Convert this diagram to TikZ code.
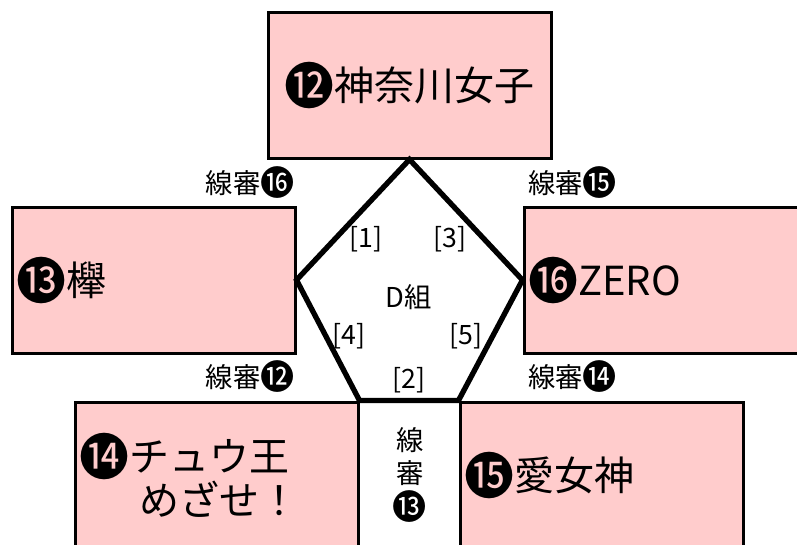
\documentclass[tikz,border=0pt]{standalone}
\usepackage{graphicx}
\usepackage{fontspec}
\setmainfont{Noto Sans CJK JP}
\definecolor{teampink}{RGB}{255,204,204}
\newcommand\cnum[1]{\raisebox{-0.1em}{\scalebox{1.25}{#1}}}
\tikzset{
  team/.style={draw,line width=2.25pt,fill=teampink,minimum width=212.25pt,minimum height=109.5pt,font=\fontsize{30}{29}\selectfont},
  leftteam/.style={team,text width=206pt,align=left,inner xsep=3pt},
  judge/.style={font=\fontsize{20.5}{24.75}\selectfont,inner sep=0pt},
  game/.style={font=\fontsize{20}{22}\selectfont,inner sep=0pt}
}
\begin{document}
\begin{tikzpicture}[x=0.75pt,y=-0.75pt]
\useasboundingbox (0,0) rectangle (797,544);
\clip (0,0) rectangle (797,544);
\node[team] (kanagawa) at (409.5,85) {\cnum{⓬}神奈川女子};
\node[leftteam] (keyaki) at (153.5,280) {\cnum{⓭}櫸};
\node[leftteam] (zero) at (665.5,280) {\cnum{⓰}ZERO};
\node[leftteam] (chuo) at (216.5,475) {\cnum{⓮}チュウ王\\\hspace*{45pt}めざせ！};
\node[leftteam] (megami) at (601.5,475) {\cnum{⓯}愛女神};
\draw[line width=4pt] (kanagawa.south) -- (zero.west) -- (megami.north west)
  -- (chuo.north east) -- (keyaki.east) -- cycle;
\node[judge,anchor=east] (j16) at (295,183) {線審\cnum{⓰}};
\node[judge,anchor=west] (j15) at (528,183) {線審\cnum{⓯}};
\node[judge,anchor=east] (j12) at (295,377) {線審\cnum{⓬}};
\node[judge,anchor=west] (j14) at (528,377) {線審\cnum{⓮}};
\node[judge,align=center] (j13) at (410,475) {線\\審\\\cnum{⓭}};
\node[judge] (group) at (409,297) {D組};
\node[game] (g1) at (366,239) {[1]};
\node[game] (g3) at (450,239) {[3]};
\node[game] (g4) at (349,336) {[4]};
\node[game] (g5) at (466,336) {[5]};
\node[game] (g2) at (409,380) {[2]};
\end{tikzpicture}
\end{document}
